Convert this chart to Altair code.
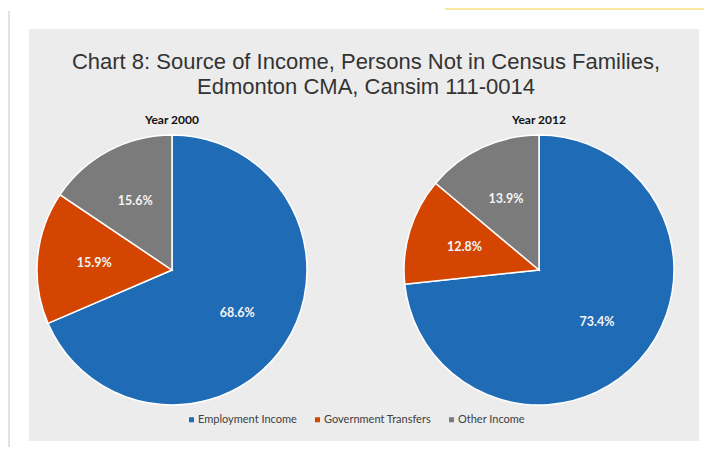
import altair as alt
import pandas as pd

# ---- data ----
categories = ["Employment Income", "Government Transfers", "Other Income"]
colors = ["#1f6bb6", "#d34500", "#7b7b7b"]
years = ["2000", "2012"]
share_2000 = [68.6, 15.9, 15.6]
share_2012 = [73.4, 12.8, 13.9]
title_lines = [
    "Chart 8: Source of Income, Persons Not in Census Families,",
    "Edmonton CMA, Cansim 111-0014",
]

rows = []
for yr, shares in zip(years, [share_2000, share_2012]):
    for i, (c, s) in enumerate(zip(categories, shares)):
        rows.append({"year": yr, "category": c, "share": s, "order": i})
df = pd.DataFrame(rows)

W, H = 696, 439
R = 135
centers = {"2000": (164, 262), "2012": (531, 262)}

color_enc = alt.Color(
    "category:N",
    scale=alt.Scale(domain=categories, range=colors),
    legend=alt.Legend(
        title=None,
        orient="none",
        legendX=178,
        legendY=406,
        direction="horizontal",
        symbolType="square",
        symbolSize=25,
        symbolStrokeWidth=0,
        labelFont="Lato",
        labelFontSize=11,
        labelColor="#404040",
        labelOffset=1,
        columnPadding=15,
        padding=0,
    ),
)

one = alt.Data(values=[{"k": 1}])

panel = alt.Chart(one).mark_rect(color="#ececec").encode(
    x=alt.value(21), x2=alt.value(691), y=alt.value(21), y2=alt.value(433)
)
shadow = alt.Chart(one).mark_rect(color="#e2e2e2").encode(
    x=alt.value(0), x2=alt.value(2), y=alt.value(3), y2=alt.value(H)
)
note = alt.Chart(one).mark_rect(color="#fbe79f").encode(
    x=alt.value(437), x2=alt.value(W), y=alt.value(0), y2=alt.value(2)
)

title = alt.Chart(alt.Data(values=[{"t": "\n".join(title_lines)}])).mark_text(
    lineBreak="\n",
    font="Liberation Sans",
    fontSize=22,
    lineHeight=25,
    color="#333333",
    align="center",
    baseline="middle",
).encode(text="t:N", x=alt.value(358), y=alt.value(54))

layers = [panel, shadow, note, title]

for yr in years:
    cx, cy = centers[yr]
    base = alt.Chart(df).transform_filter(alt.datum.year == yr)
    arcs = base.mark_arc(outerRadius=R, stroke="white", strokeWidth=1.5).encode(
        theta=alt.Theta("share:Q", stack=True),
        color=color_enc,
        order=alt.Order("order:Q", sort="ascending"),
        x=alt.value(cx),
        y=alt.value(cy),
    )
    labels = base.transform_calculate(
        label="format(datum.share, '.1f') + '%'"
    ).mark_text(
        radius=78,
        font="Lato",
        fontSize=12.5,
        fontWeight="bold",
        color="#f4f4f4",
        align="center",
        baseline="middle",
    ).encode(
        theta=alt.Theta("share:Q", stack=True),
        detail="category:N",
        order=alt.Order("order:Q", sort="ascending"),
        text="label:N",
        x=alt.value(cx),
        y=alt.value(cy),
    )
    head = alt.Chart(alt.Data(values=[{"year": yr}])).transform_calculate(
        t="'Year ' + datum.year"
    ).mark_text(
        font="Lato", fontSize=12, fontWeight="bold", color="#111111",
        align="center", baseline="middle",
    ).encode(text="t:N", x=alt.value(cx), y=alt.value(112))
    layers += [arcs, labels, head]

chart = alt.layer(*layers).properties(
    width=W, height=H, autosize="none", padding=0, background="white"
).configure_view(stroke=None)

chart.save("out.html", embed_options={"renderer": "svg", "actions": False})
